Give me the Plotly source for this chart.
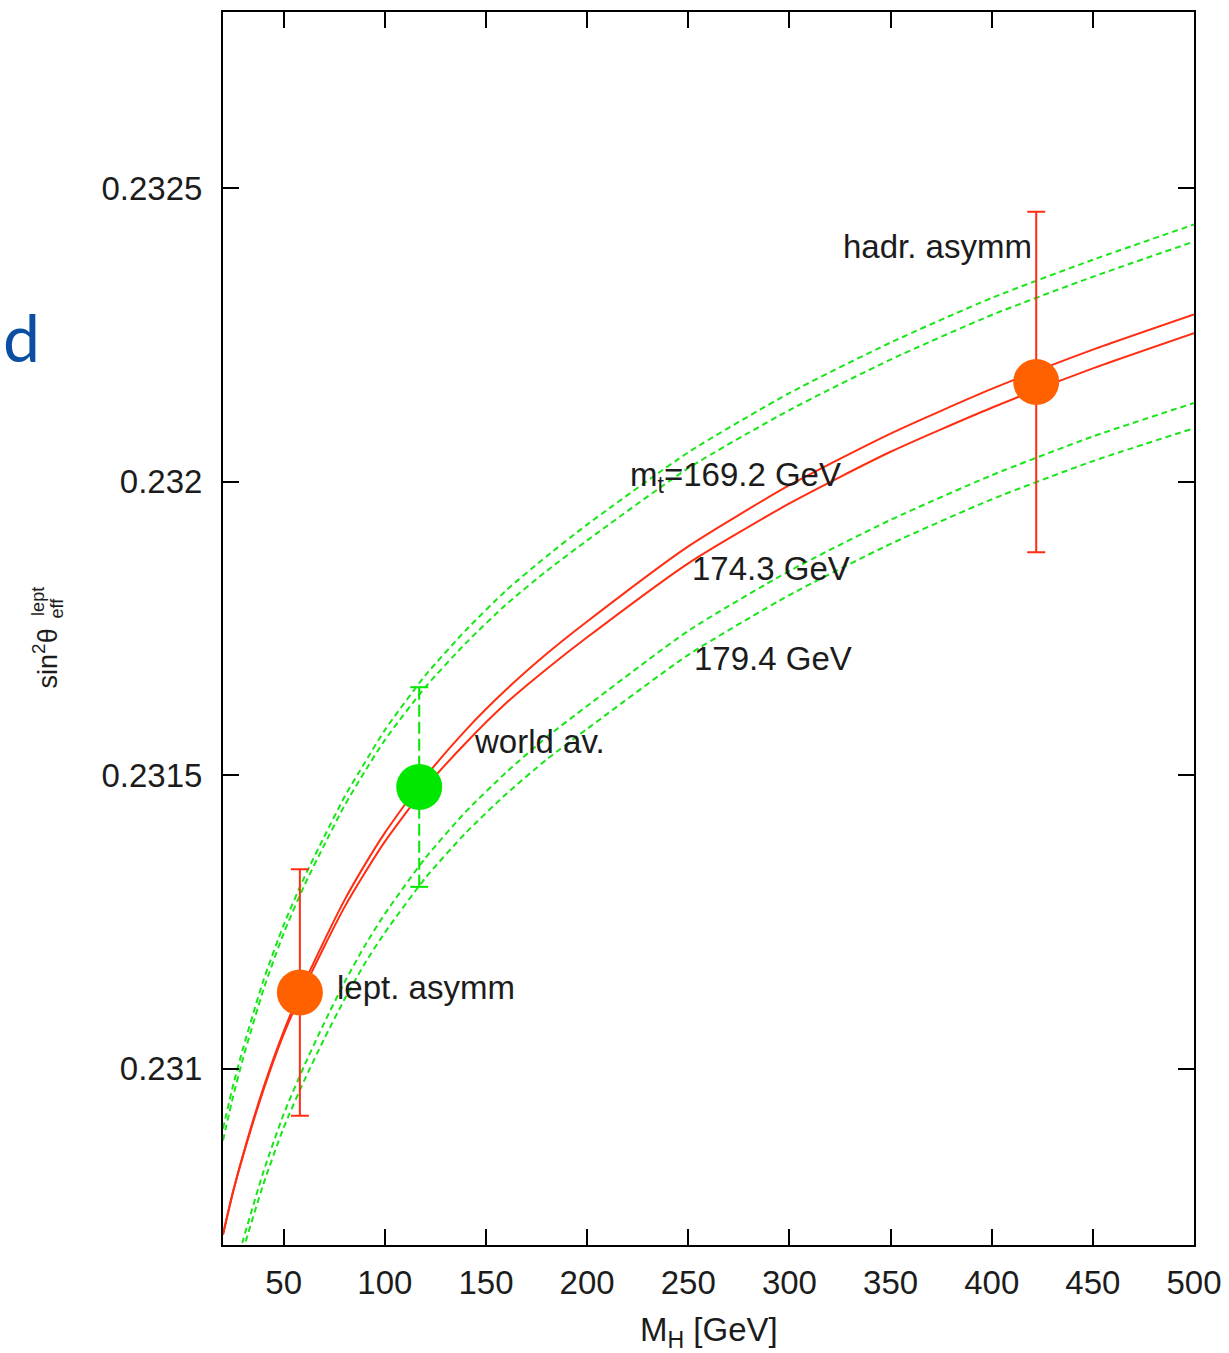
import plotly.graph_objects as go

# Higgs mass grid (GeV)
mh = [20, 25, 30, 40, 50, 60, 70, 80, 90, 100, 120, 140, 160, 180, 200,
      250, 300, 350, 400, 450, 500]

# SM prediction of sin^2 theta_eff^lept, two curves per top mass
mt1692_a = [0.230898, 0.230972, 0.231036, 0.231151, 0.231245, 0.231325, 0.231395,
            0.231463, 0.231521, 0.231577, 0.231670, 0.231747, 0.231815, 0.231873,
            0.231927, 0.232050, 0.232151, 0.232237, 0.232313, 0.232378, 0.232438]
mt1692_b = [0.230878, 0.230953, 0.231019, 0.231135, 0.231231, 0.231311, 0.231381,
            0.231448, 0.231506, 0.231560, 0.231650, 0.231725, 0.231791, 0.231848,
            0.231900, 0.232023, 0.232122, 0.232208, 0.232284, 0.232349, 0.232409]
mt1743_a = [0.230718, 0.230791, 0.230855, 0.230968, 0.231064, 0.231145, 0.231218,
            0.231287, 0.231347, 0.231402, 0.231497, 0.231577, 0.231646, 0.231707,
            0.231762, 0.231890, 0.231994, 0.232082, 0.232158, 0.232225, 0.232285]
mt1743_b = [0.230718, 0.230791, 0.230853, 0.230964, 0.231059, 0.231137, 0.231208,
            0.231275, 0.231333, 0.231387, 0.231479, 0.231555, 0.231623, 0.231681,
            0.231735, 0.231861, 0.231963, 0.232051, 0.232126, 0.232193, 0.232253]
mt1794_a = [0.230571, 0.230645, 0.230709, 0.230825, 0.230923, 0.231004, 0.231078,
            0.231147, 0.231209, 0.231264, 0.231359, 0.231438, 0.231505, 0.231565,
            0.231618, 0.231746, 0.231848, 0.231935, 0.232011, 0.232077, 0.232134]
mt1794_b = [0.230558, 0.230630, 0.230692, 0.230804, 0.230900, 0.230979, 0.231051,
            0.231118, 0.231179, 0.231232, 0.231325, 0.231402, 0.231468, 0.231527,
            0.231579, 0.231705, 0.231807, 0.231894, 0.231970, 0.232035, 0.232091]

# Measurements placed at the Higgs mass where they cross the mt=174.3 band
meas_names = ["lept. asymm", "world av.", "hadr. asymm"]
meas_mh = [58, 117, 422]
meas_val = [0.23113, 0.23148, 0.23217]
meas_err = [0.00021, 0.00017, 0.00029]

curve_labels = ["m<sub>t</sub>=169.2 GeV", "174.3 GeV", "179.4 GeV"]

XRANGE = [20, 500]
YRANGE = [0.2307, 0.2328]
PLOT_W = 971  # plot area width in px

RED = "#ff2e12"
GREEN = "#19e619"
ORANGE = "#ff6100"
GREEN_DOT = "#00e800"
TXT = "#1c1c1c"

fig = go.Figure()

green_line = dict(color=GREEN, width=2, dash="6px,4px", shape="spline", smoothing=0.6)
red_line = dict(color=RED, width=2, shape="spline", smoothing=0.6)

for ys in (mt1692_a, mt1692_b, mt1794_a, mt1794_b):
    fig.add_trace(go.Scatter(x=mh, y=ys, mode="lines", line=green_line, hoverinfo="skip"))
for ys in (mt1743_a, mt1743_b):
    fig.add_trace(go.Scatter(x=mh, y=ys, mode="lines", line=red_line, hoverinfo="skip"))

# world average: dashed green error bar with caps
i_w = 1
cap = 9 * (XRANGE[1] - XRANGE[0]) / PLOT_W
xw, yw, ew = meas_mh[i_w], meas_val[i_w], meas_err[i_w]
fig.add_trace(go.Scatter(x=[xw, xw], y=[yw - ew, yw + ew], mode="lines",
                         line=dict(color=GREEN_DOT, width=2, dash="12px,5px"),
                         hoverinfo="skip"))
fig.add_trace(go.Scatter(x=[xw - cap, xw + cap, None, xw - cap, xw + cap],
                         y=[yw - ew, yw - ew, None, yw + ew, yw + ew], mode="lines",
                         line=dict(color=GREEN_DOT, width=2), hoverinfo="skip"))
fig.add_trace(go.Scatter(x=[xw], y=[yw], mode="markers",
                         marker=dict(size=46, color=GREEN_DOT, line=dict(width=0))))

# asymmetry measurements with solid error bars
for i in (0, 2):
    fig.add_trace(go.Scatter(
        x=[meas_mh[i]], y=[meas_val[i]], mode="markers",
        marker=dict(size=46, color=ORANGE, line=dict(width=0)),
        error_y=dict(type="data", array=[meas_err[i]], symmetric=True,
                     color=RED, thickness=2, width=9),
    ))

font_txt = dict(family="Liberation Sans, Arial, sans-serif", size=33, color=TXT)

annotations = [
    dict(x=421, y=0.23240, text=meas_names[2], xanchor="right", yanchor="middle"),
    dict(x=75.4, y=0.231138, text=meas_names[0], xanchor="left", yanchor="middle"),
    dict(x=143.2, y=0.231558, text=meas_names[1], xanchor="left", yanchor="middle"),
    dict(x=220, y=0.232008, text=curve_labels[0], xanchor="left", yanchor="middle"),
    dict(x=251, y=0.231852, text=curve_labels[1], xanchor="left", yanchor="middle"),
    dict(x=252, y=0.231699, text=curve_labels[2], xanchor="left", yanchor="middle"),
]
for a in annotations:
    fig.add_annotation(xref="x", yref="y", showarrow=False, font=font_txt, **a)

# x-axis title
fig.add_annotation(xref="paper", yref="paper", x=0.5, y=-0.0706, text="M<sub>H</sub> [GeV]",
                   showarrow=False, xanchor="center", yanchor="middle", font=font_txt)

# y-axis title with stacked super/subscript
ylab_font = dict(family="Liberation Sans, Arial, sans-serif", size=27, color=TXT)
fig.add_annotation(xref="paper", yref="paper", x=-0.183, y=0.476, text="sin<sup>2</sup>θ",
                   textangle=-90, showarrow=False, font=ylab_font,
                   xanchor="center", yanchor="middle")
small = dict(family="Liberation Sans, Arial, sans-serif", size=18, color=TXT)
fig.add_annotation(xref="paper", yref="paper", x=-0.190, y=0.522, text="lept",
                   textangle=-90, showarrow=False, font=small,
                   xanchor="center", yanchor="middle")
fig.add_annotation(xref="paper", yref="paper", x=-0.171, y=0.517, text="eff",
                   textangle=-90, showarrow=False, font=small,
                   xanchor="center", yanchor="middle")

# panel letter
fig.add_annotation(xref="paper", yref="paper", x=-0.208, y=0.737, text="d",
                   showarrow=False, xanchor="center", yanchor="middle",
                   font=dict(family="Lato, Noto Sans, sans-serif", size=66, color="#0b4ea2"))

axis_common = dict(showline=True, linecolor="black", linewidth=2, mirror="allticks",
                   ticks="inside", ticklen=16, tickwidth=2, tickcolor="black",
                   showgrid=False, zeroline=False, automargin=False,
                   tickfont=dict(family="Liberation Sans, Arial, sans-serif", size=33, color=TXT))

fig.update_layout(
    width=1229, height=1353,
    margin=dict(l=223, r=35, t=12, b=108),
    plot_bgcolor="white", paper_bgcolor="white",
    showlegend=False,
    xaxis=dict(range=XRANGE, tickvals=[50, 100, 150, 200, 250, 300, 350, 400, 450, 500],
               ticklabelstandoff=7, **axis_common),
    yaxis=dict(range=YRANGE, tickvals=[0.231, 0.2315, 0.232, 0.2325],
               ticktext=["0.231", "0.2315", "0.232", "0.2325"],
               ticklabelstandoff=12, **axis_common),
)

fig.write_html("out.html")
